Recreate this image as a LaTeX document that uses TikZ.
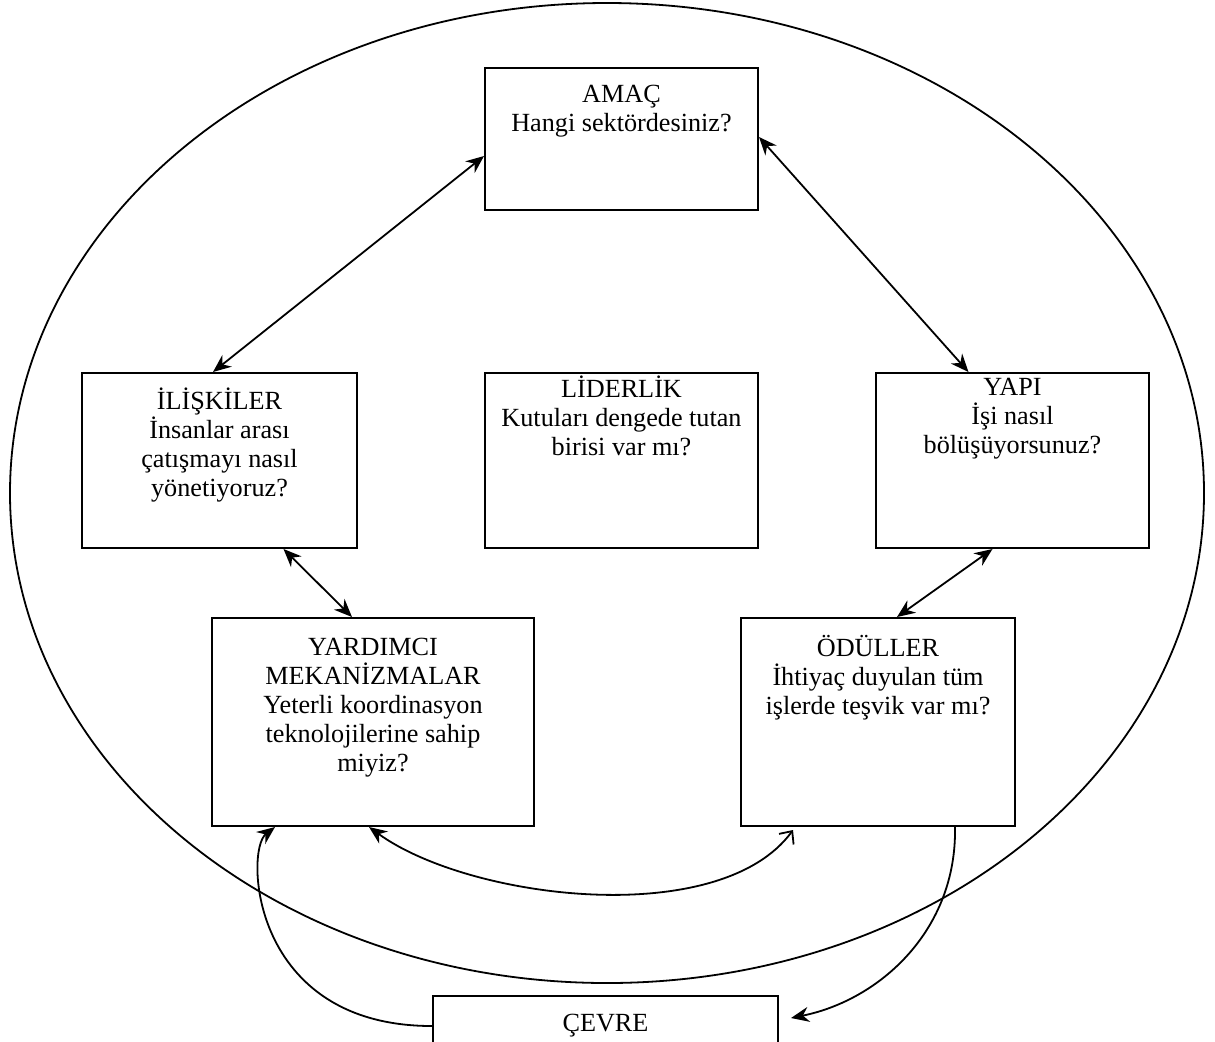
\documentclass[tikz,border=0pt]{standalone}
\usepackage{fontspec}
\setmainfont{Liberation Serif}
\usetikzlibrary{arrows.meta}
\newcommand{\kutuyazi}{\fontsize{13.1}{14.5}\selectfont\lineskiplimit=-20pt\relax}
\begin{document}
\begin{tikzpicture}[x=0.5pt,y=-0.5pt,
  kutu/.style={draw,line width=1pt,inner sep=0pt},
  yazi/.style={anchor=north,align=center,inner sep=0pt,font=\kutuyazi},
  ok/.style={line width=0.9pt,{Stealth[length=9pt,width=7.5pt]}-{Stealth[length=9pt,width=7.5pt]}},
  tekok/.style={line width=0.9pt,-{Stealth[length=9pt,width=7.5pt]}}]
\useasboundingbox (0,0) rectangle (1215,1041);

\draw[line width=0.9pt] (607,493) ellipse [x radius=298.5pt,y radius=245pt];

% kutular
\node[kutu,minimum width=136.5pt,minimum height=71pt] (amac) at (621.5,139) {};
\node[kutu,minimum width=137.5pt,minimum height=87.5pt] (iliskiler) at (219.5,460.5) {};
\node[kutu,minimum width=136.5pt,minimum height=87.5pt] (liderlik) at (621.5,460.5) {};
\node[kutu,minimum width=136.5pt,minimum height=87.5pt] (yapi) at (1012.5,460.5) {};
\node[kutu,minimum width=161pt,minimum height=104pt] (yardimci) at (373,722) {};
\node[kutu,minimum width=137pt,minimum height=104pt] (odul) at (878,722) {};
\node[kutu,minimum width=172.5pt,minimum height=45pt] (cevre) at (605.5,1041) {};

% yazilar
\node[yazi] (amacyazi) at (621.5,82) {\strut AMAÇ\\Hangi sektördesiniz?};
\node[yazi] (iliskileryazi) at (219.5,387) {\strut İLİŞKİLER\\İnsanlar arası\\çatışmayı nasıl\\yönetiyoruz?};
\node[yazi] (lideryazi) at (621.5,375) {\strut LİDERLİK\\Kutuları dengede tutan\\birisi var mı?};
\node[yazi] (yapiyazi) at (1012.5,375) {\strut YAPI\\İşi nasıl\\bölüşüyorsunuz?};
\node[yazi] (yardimciyazi) at (373,635) {\strut YARDIMCI\\MEKANİZMALAR\\Yeterli koordinasyon\\teknolojilerine sahip\\miyiz?};
\node[yazi] (odulyazi) at (878,635) {\strut ÖDÜLLER\\İhtiyaç duyulan tüm\\işlerde teşvik var mı?};
\node[yazi] (cevreyazi) at (605.5,1011) {\strut ÇEVRE};

% oklar
\draw[ok] ([yshift=-8.5pt]amac.west) -- ([xshift=-3.25pt]iliskiler.north);
\draw[ok] ([yshift=1pt]amac.east) -- ([xshift=-22pt]yapi.north);
\draw[ok] ([xshift=32pt]iliskiler.south) -- ([xshift=-10.5pt]yardimci.north);
\draw[ok] ([xshift=-10pt]yapi.south) -- ([xshift=9.5pt]odul.north);

\draw[line width=0.9pt,{Stealth[length=9pt,width=7.5pt]}-{Straight Barb[length=5pt,width=9pt]}]
  ([xshift=-2pt]yardimci.south) .. controls (470,900) and (720,930) .. ([xshift=-42.5pt,yshift=-1.5pt]odul.south);
\draw[tekok] ([yshift=7.5pt]cevre.west) .. controls (250,1026) and (245,850) .. ([xshift=-49pt]yardimci.south);
\draw[tekok] ([xshift=38.5pt]odul.south) .. controls (957,930) and (880,1000) .. ([xshift=6pt,yshift=11.5pt]cevre.east);
\end{tikzpicture}
\end{document}
